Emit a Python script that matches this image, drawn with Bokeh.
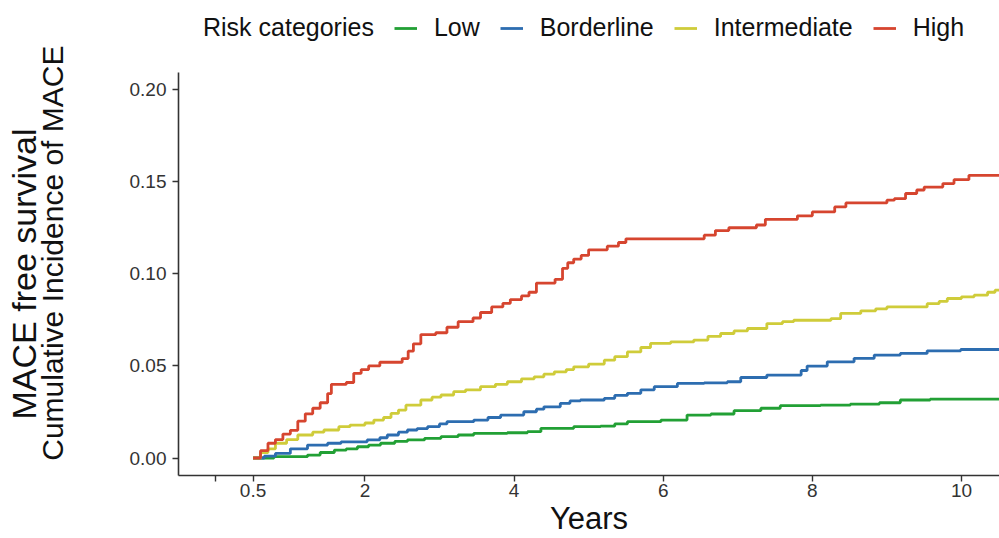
from bokeh.plotting import figure
from bokeh.models import (Range1d, FixedTicker, NumeralTickFormatter, Legend, LegendItem,
                          LinearAxis, ColumnDataSource)
from bokeh.layouts import column
from bokeh.embed import file_html
from bokeh.resources import INLINE

# ---------------- data ----------------
END_YEAR = 10.6

groups = ["Low", "Borderline", "Intermediate", "High"]
colors = ["#22A035", "#2D6DB0", "#CFCC3A", "#D6452F"]

low_t = [0.5, 0.78, 1.23, 1.4, 1.59, 1.75, 1.9, 2.05, 2.21, 2.4, 2.57, 2.8, 3.02, 3.25, 3.46,
         3.91, 4.18, 4.36, 4.8, 5.16, 5.35, 5.52, 5.97, 6.32, 6.64, 6.95, 7.31, 7.57, 8.11,
         8.51, 8.9, 9.18, 9.58]
low_v = [0, 0.0007, 0.0016, 0.003, 0.0043, 0.005, 0.0061, 0.007, 0.008, 0.009, 0.0098, 0.0107,
         0.0116, 0.0125, 0.0134, 0.0137, 0.0143, 0.0161, 0.017, 0.0173, 0.0185, 0.0197, 0.0206,
         0.0233, 0.0239, 0.0257, 0.027, 0.0284, 0.0287, 0.0293, 0.030, 0.0315, 0.032]

border_t = [0.5, 0.65, 0.8, 1.0, 1.23, 1.5, 1.68, 2.03, 2.2, 2.3, 2.45, 2.57, 2.7, 2.84, 3.0,
            3.1, 3.46, 3.65, 3.82, 4.13, 4.3, 4.4, 4.62, 4.75, 4.89, 5.21, 5.35, 5.52, 5.7,
            5.88, 6.19, 6.55, 6.86, 7.04, 7.39, 7.85, 7.93, 8.2, 8.56, 8.83, 9.18, 9.54, 9.99]
border_v = [0, 0.001, 0.0025, 0.005, 0.007, 0.008, 0.0088, 0.0098, 0.011, 0.0125, 0.014, 0.0152,
            0.016, 0.017, 0.0185, 0.0197, 0.0206, 0.022, 0.0233, 0.0251, 0.0265, 0.0278, 0.0297,
            0.031, 0.0315, 0.0324, 0.034, 0.0351, 0.037, 0.0387, 0.0405, 0.0408, 0.0414, 0.0437,
            0.045, 0.0475, 0.0499, 0.0522, 0.0541, 0.0559, 0.0568, 0.0582, 0.0589]

inter_t = [0.5, 0.6, 0.7, 0.8, 0.95, 1.1, 1.3, 1.45, 1.65, 1.8, 2.0, 2.12, 2.25, 2.35, 2.45,
           2.55, 2.75, 2.9, 3.02, 3.19, 3.35, 3.55, 3.75, 3.91, 4.1, 4.27, 4.4, 4.54, 4.7, 4.8,
           5.0, 5.21, 5.35, 5.52, 5.7, 5.83, 6.1, 6.41, 6.6, 6.77, 6.95, 7.13, 7.39, 7.6, 7.75,
           8.25, 8.38, 8.65, 8.85, 9.0, 9.54, 9.7, 9.81, 10.0, 10.17, 10.35, 10.45]
inter_v = [0, 0.003, 0.005, 0.008, 0.010, 0.0125, 0.014, 0.0152, 0.017, 0.0179, 0.019, 0.0206,
           0.022, 0.0242, 0.026, 0.0287, 0.0315, 0.033, 0.0342, 0.036, 0.037, 0.0387, 0.040,
           0.0414, 0.043, 0.0441, 0.0455, 0.0468, 0.048, 0.0495, 0.051, 0.0531, 0.055, 0.0576,
           0.060, 0.0622, 0.063, 0.064, 0.066, 0.0676, 0.069, 0.0703, 0.073, 0.074, 0.0748,
           0.0757, 0.0785, 0.0799, 0.081, 0.082, 0.0838, 0.085, 0.0866, 0.0875, 0.0884, 0.090,
           0.0911]

high_t = [0.5, 0.6, 0.7, 0.8, 0.9, 1.0, 1.1, 1.2, 1.3, 1.4, 1.5, 1.55, 1.75, 1.85, 1.95, 2.05,
          2.2, 2.5, 2.58, 2.65, 2.75, 2.95, 3.1, 3.25, 3.45, 3.55, 3.7, 3.85, 3.95, 4.1, 4.2,
          4.3, 4.55, 4.65, 4.72, 4.8, 4.9, 5.0, 5.25, 5.4, 5.5, 6.55, 6.7, 6.88, 7.25, 7.37,
          7.8, 8.0, 8.3, 8.45, 9.0, 9.1, 9.25, 9.4, 9.5, 9.75, 9.9, 10.1]
high_v = [0, 0.004, 0.008, 0.010, 0.013, 0.015, 0.020, 0.024, 0.027, 0.030, 0.035, 0.040, 0.041,
          0.046, 0.048, 0.050, 0.052, 0.054, 0.058, 0.062, 0.067, 0.068, 0.071, 0.074, 0.076,
          0.079, 0.082, 0.084, 0.086, 0.088, 0.090, 0.095, 0.097, 0.103, 0.106, 0.108, 0.110,
          0.113, 0.115, 0.117, 0.119, 0.121, 0.1235, 0.125, 0.1265, 0.1296, 0.1315, 0.1336,
          0.1363, 0.1385, 0.140, 0.1408, 0.1436, 0.1455, 0.1471, 0.149, 0.1511, 0.1535]

series_t = [low_t, border_t, inter_t, high_t]
series_v = [low_v, border_v, inter_v, high_v]

legend_title = "Risk categories"
x_ticks = [0, 0.5, 2, 4, 6, 8, 10]
y_ticks = [0.0, 0.05, 0.10, 0.15, 0.20]

FONT = "Liberation Sans"
LINE_W = 2.8
NAN = float("nan")

# ---------------- legend strip (top) ----------------
lg = figure(width=999, height=44, output_backend="svg", toolbar_location=None,
            x_axis_type=None, y_axis_type=None, x_range=Range1d(0, 1), y_range=Range1d(0, 1),
            min_border_left=150, min_border_right=0, min_border_top=0, min_border_bottom=0)
if "frame_align" in lg.properties():
    lg.frame_align = False
lg.outline_line_color = None
lg.grid.visible = False
dummy = lg.line([NAN], [NAN], line_alpha=0)
items = [LegendItem(label=legend_title, renderers=[dummy])]
for g, c in zip(groups, colors):
    r = lg.line([NAN], [NAN], line_color=c, line_width=LINE_W)
    items.append(LegendItem(label=g, renderers=[r]))
legend = Legend(items=items, orientation="horizontal", location="top_left",
                label_text_font=FONT, label_text_font_size="25px", label_text_color="#111111",
                glyph_width=23, glyph_height=24, label_height=24, label_standoff=17, spacing=20,
                padding=0, margin=13, border_line_color=None, background_fill_alpha=0)
lg.add_layout(legend)

# ---------------- main chart ----------------
p = figure(width=999, height=494, output_backend="svg", toolbar_location=None,
           x_range=Range1d(-0.5, 10.51), y_range=Range1d(-0.0095, 0.2093),
           min_border_left=178, min_border_right=0, min_border_top=28,
           min_border_bottom=62)
p.outline_line_color = None
p.grid.visible = False

for t, v, c in zip(series_t, series_v, colors):
    src = ColumnDataSource(dict(x=list(t) + [END_YEAR], y=list(v) + [v[-1]]))
    p.step("x", "y", source=src, mode="after", line_color=c, line_width=LINE_W)

for ax in (p.xaxis[0], p.yaxis[0]):
    ax.axis_line_color = "#333333"
    ax.axis_line_width = 1.6
    ax.major_tick_line_color = "#333333"
    ax.major_tick_line_width = 1.4
    ax.major_tick_out = 6
    ax.major_tick_in = 0
    ax.minor_tick_line_color = None
    ax.major_label_text_font = FONT
    ax.major_label_text_font_size = "19px"
    ax.major_label_text_color = "#333333"
    ax.axis_label_text_font = FONT
    ax.axis_label_text_font_style = "normal"
    ax.axis_label_text_color = "#111111"

p.xaxis.ticker = FixedTicker(ticks=x_ticks)
p.xaxis.major_label_overrides = {0: ""}
p.xaxis.major_label_standoff = 2
p.xaxis.axis_label = "Years"
p.xaxis.axis_label_text_font_size = "31px"
p.xaxis.axis_label_standoff = 1

p.yaxis.ticker = FixedTicker(ticks=y_ticks)
p.yaxis.formatter = NumeralTickFormatter(format="0.00")
p.yaxis.major_label_standoff = 6
p.yaxis.axis_label = "\u00a0" * 5 + "Cumulative Incidence of MACE"
p.yaxis.axis_label_text_font_size = "30px"
p.yaxis.axis_label_standoff = 58

# outer label "MACE free survival" as a tick-less second axis
outer = LinearAxis(ticker=FixedTicker(ticks=[]), axis_label="MACE free survival",
                   axis_line_color=None, major_tick_line_color=None,
                   minor_tick_line_color=None, major_label_text_font_size="0px",
                   major_label_standoff=0, major_tick_out=0, axis_label_standoff=-10,
                   axis_label_text_font=FONT, axis_label_text_font_size="34px",
                   axis_label_text_font_style="normal", axis_label_text_color="#111111")
p.add_layout(outer, "left")

open("out.html", "w").write(file_html(column(lg, p, spacing=0), INLINE))
